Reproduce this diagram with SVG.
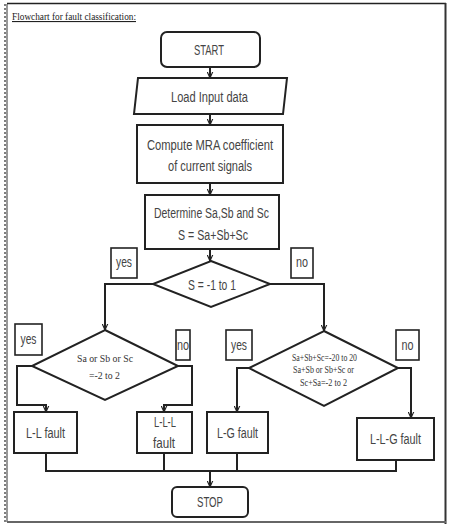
<svg xmlns="http://www.w3.org/2000/svg" width="451" height="529" viewBox="0 0 451 529">
<defs>
<marker id="ah" viewBox="0 0 10 10" refX="9" refY="5" markerWidth="7" markerHeight="7" orient="auto" markerUnits="userSpaceOnUse">
<path d="M0,1 L9,5 L0,9" fill="none" stroke="#222" stroke-width="1.6"/>
</marker>
<style>
.n{fill:#fff;stroke:#222;stroke-width:2}
.c{fill:none;stroke:#222;stroke-width:2}
.t{font-family:"Liberation Sans",Arial,sans-serif;font-size:14px;fill:#444;text-anchor:middle;dominant-baseline:central}
.s{font-family:"Liberation Serif","Times New Roman",serif;font-size:10px;fill:#333;text-anchor:middle;dominant-baseline:central}
.lb{fill:#fff;stroke:#222;stroke-width:1.6}
</style>
</defs>
<rect width="451" height="529" fill="#fff"/>
<g id="frame">
<line x1="5" y1="4" x2="5" y2="522" stroke="#555" stroke-width="1.5" stroke-dasharray="2,2"/>
<line x1="7" y1="4" x2="7" y2="522" stroke="#333" stroke-width="1"/>
<line x1="7" y1="3.5" x2="446" y2="3.5" stroke="#222" stroke-width="1.5"/>
<line x1="445.5" y1="3" x2="445.5" y2="524" stroke="#333" stroke-width="2"/>
<line x1="7" y1="522" x2="446" y2="522" stroke="#666" stroke-width="2.2"/>
<text x="12" y="20" font-family="Liberation Serif,serif" font-size="11" fill="#222" textLength="124" lengthAdjust="spacingAndGlyphs" text-decoration="underline">Flowchart for fault classification:</text>
</g>
<g id="connectors">
<line class="c" x1="210" y1="67" x2="210" y2="78" marker-end="url(#ah)"/>
<line class="c" x1="210" y1="114" x2="210" y2="125" marker-end="url(#ah)"/>
<line class="c" x1="210" y1="183" x2="210" y2="195" marker-end="url(#ah)"/>
<line class="c" x1="210" y1="249" x2="210" y2="261" marker-end="url(#ah)"/>
<polyline class="c" points="153,284 105,284 105,330" marker-end="url(#ah)"/>
<polyline class="c" points="270,284 324,284 324,331" marker-end="url(#ah)"/>
<polyline class="c" points="32,366 17,366 17,405 46,405 46,412" marker-end="url(#ah)"/>
<polyline class="c" points="178,366 192,366 192,405 164,405 164,412" marker-end="url(#ah)"/>
<polyline class="c" points="249,368 237,368 237,412" marker-end="url(#ah)"/>
<polyline class="c" points="398,368 411,368 411,418" marker-end="url(#ah)"/>
<polyline class="c" points="46,453 46,471 396,471 396,460"/>
<line class="c" x1="164" y1="453" x2="164" y2="471"/>
<line class="c" x1="237" y1="453" x2="237" y2="471"/>
<line class="c" x1="210" y1="471" x2="210" y2="487" marker-end="url(#ah)"/>
</g>
<g id="start">
<rect class="n" x="161" y="32" width="99" height="35" rx="6"/>
<text class="t" x="209" y="50" textLength="30" lengthAdjust="spacingAndGlyphs">START</text>
</g>
<g id="load">
<polygon class="n" points="138,78 287,78 283,114 134,114"/>
<text class="t" x="209.5" y="96.5" textLength="77" lengthAdjust="spacingAndGlyphs">Load Input data</text>
</g>
<g id="compute">
<rect class="n" x="137" y="125" width="146" height="58"/>
<text class="t" x="210" y="144.5" textLength="126" lengthAdjust="spacingAndGlyphs">Compute MRA coefficient</text>
<text class="t" x="210" y="166" textLength="84" lengthAdjust="spacingAndGlyphs">of current signals</text>
</g>
<g id="determine">
<rect class="n" x="145" y="195" width="134" height="54"/>
<text class="t" x="211.5" y="212.5" textLength="115" lengthAdjust="spacingAndGlyphs">Determine Sa,Sb and Sc</text>
<text class="t" x="213" y="235" textLength="70" lengthAdjust="spacingAndGlyphs">S = Sa+Sb+Sc</text>
</g>
<g id="dec1">
<polygon class="n" points="211,261 270,284 211,307 153,284"/>
<text class="t" x="212" y="284.5" textLength="48" lengthAdjust="spacingAndGlyphs">S = -1 to 1</text>
</g>
<g id="lbl-yes1"><rect class="lb" x="111" y="248" width="26" height="30"/><text class="t" x="124" y="262" textLength="16" lengthAdjust="spacingAndGlyphs">yes</text></g>
<g id="lbl-no1"><rect class="lb" x="291" y="248" width="22" height="30"/><text class="t" x="302" y="262" textLength="12" lengthAdjust="spacingAndGlyphs">no</text></g>
<g id="dec2">
<polygon class="n" points="105,330 178,366 105,400 32,366"/>
<text class="s" x="105" y="358" textLength="56" lengthAdjust="spacingAndGlyphs">Sa or Sb or Sc</text>
<text class="s" x="104.5" y="375" textLength="31" lengthAdjust="spacingAndGlyphs">=-2 to 2</text>
</g>
<g id="lbl-yes2"><rect class="lb" x="15" y="324" width="27" height="31"/><text class="t" x="28.5" y="339" textLength="16" lengthAdjust="spacingAndGlyphs">yes</text></g>
<g id="lbl-no2"><rect class="lb" x="176" y="330" width="14" height="30"/><text class="t" x="183" y="345" textLength="12" lengthAdjust="spacingAndGlyphs">no</text></g>
<g id="dec3">
<polygon class="n" points="324,331 398,368 324,406 249,368"/>
<text class="s" x="324.5" y="357" textLength="65" lengthAdjust="spacingAndGlyphs">Sa+Sb+Sc=-20 to 20</text>
<text class="s" x="323.5" y="369.5" textLength="61" lengthAdjust="spacingAndGlyphs">Sa+Sb or Sb+Sc or</text>
<text class="s" x="323.5" y="382" textLength="47" lengthAdjust="spacingAndGlyphs">Sc+Sa=-2 to 2</text>
</g>
<g id="lbl-yes3"><rect class="lb" x="226" y="330" width="26" height="30"/><text class="t" x="239" y="345" textLength="16" lengthAdjust="spacingAndGlyphs">yes</text></g>
<g id="lbl-no3"><rect class="lb" x="396" y="330" width="23" height="30"/><text class="t" x="407.5" y="345" textLength="12" lengthAdjust="spacingAndGlyphs">no</text></g>
<g id="ll">
<rect class="n" x="14" y="412" width="63" height="41"/>
<text class="t" x="45.5" y="432.5" textLength="39" lengthAdjust="spacingAndGlyphs">L-L fault</text>
</g>
<g id="lll">
<rect class="n" x="137" y="412" width="55" height="41"/>
<text class="t" x="165" y="422" textLength="22" lengthAdjust="spacingAndGlyphs">L-L-L</text>
<text class="t" x="164" y="443" textLength="22" lengthAdjust="spacingAndGlyphs">fault</text>
</g>
<g id="lg">
<rect class="n" x="207" y="412" width="61" height="41"/>
<text class="t" x="237.5" y="432.5" textLength="41" lengthAdjust="spacingAndGlyphs">L-G fault</text>
</g>
<g id="llg">
<rect class="n" x="357" y="418" width="77" height="42"/>
<text class="t" x="395.5" y="439" textLength="51" lengthAdjust="spacingAndGlyphs">L-L-G fault</text>
</g>
<g id="stop">
<rect class="n" x="172" y="487" width="76" height="30" rx="5"/>
<text class="t" x="210" y="502" textLength="26" lengthAdjust="spacingAndGlyphs">STOP</text>
</g>
</svg>
